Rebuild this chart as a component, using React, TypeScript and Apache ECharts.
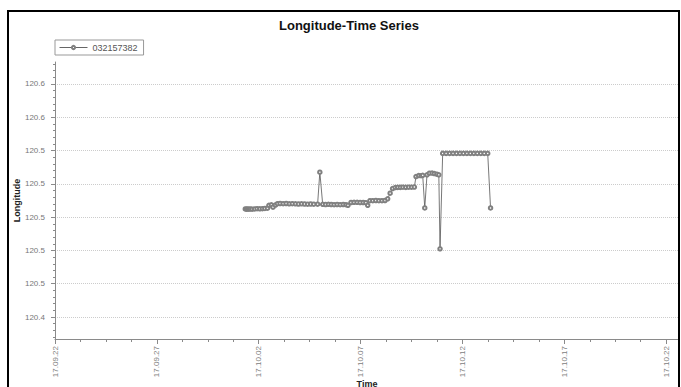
import React, { useEffect, useRef } from "react";
import * as echarts from "echarts";

const chartTitle = "Longitude-Time Series";
const seriesName = "032157382";
const xAxisName = "Time";
const yAxisName = "Longitude";

const baseDate = "2017-09-22 00:00";
const xMaxDays = 30.63;
const xTickDays = [0, 5, 10, 15, 20, 25, 30];

const yMin = 120.4268;
const yMax = 120.5932;
const yTickValues = [120.44, 120.46, 120.48, 120.5, 120.52, 120.54, 120.56, 120.58];
const yMinorSplit = 5;

const times = [
  "2017-10-01 08:10", "2017-10-01 09:36", "2017-10-01 11:02", "2017-10-01 12:29",
  "2017-10-01 14:24", "2017-10-01 16:19", "2017-10-01 19:12", "2017-10-01 22:05",
  "2017-10-02 01:12", "2017-10-02 04:19", "2017-10-02 07:12", "2017-10-02 10:19",
  "2017-10-02 12:00", "2017-10-02 14:53", "2017-10-02 16:48", "2017-10-02 19:41",
  "2017-10-02 22:05", "2017-10-03 01:12", "2017-10-03 04:48", "2017-10-03 08:24",
  "2017-10-03 12:00", "2017-10-03 15:36", "2017-10-03 19:12", "2017-10-03 22:48",
  "2017-10-04 02:24", "2017-10-04 06:00", "2017-10-04 09:36", "2017-10-04 13:12",
  "2017-10-04 16:48", "2017-10-04 21:22", "2017-10-05 00:00", "2017-10-05 03:22",
  "2017-10-05 06:43", "2017-10-05 10:05", "2017-10-05 13:26", "2017-10-05 16:48",
  "2017-10-05 20:24", "2017-10-06 00:00", "2017-10-06 03:36", "2017-10-06 06:43",
  "2017-10-06 09:07", "2017-10-06 12:43", "2017-10-06 16:19", "2017-10-06 19:55",
  "2017-10-06 23:31", "2017-10-07 03:07", "2017-10-07 06:14", "2017-10-07 08:24",
  "2017-10-07 11:02", "2017-10-07 14:24", "2017-10-07 18:00", "2017-10-07 21:36",
  "2017-10-08 01:12", "2017-10-08 04:48", "2017-10-08 07:55", "2017-10-08 10:48",
  "2017-10-08 13:41", "2017-10-08 16:48", "2017-10-08 19:41", "2017-10-08 22:48",
  "2017-10-09 01:55", "2017-10-09 05:17", "2017-10-09 08:38", "2017-10-09 12:00",
  "2017-10-09 15:22", "2017-10-09 17:17", "2017-10-09 20:24", "2017-10-09 23:17",
  "2017-10-10 01:12", "2017-10-10 03:36", "2017-10-10 06:14", "2017-10-10 09:07",
  "2017-10-10 12:14", "2017-10-10 14:53", "2017-10-10 17:46", "2017-10-10 20:10",
  "2017-10-10 21:36", "2017-10-11 00:43", "2017-10-11 04:48", "2017-10-11 08:53",
  "2017-10-11 12:58", "2017-10-11 17:02", "2017-10-11 21:07", "2017-10-12 01:12",
  "2017-10-12 05:17", "2017-10-12 09:22", "2017-10-12 13:26", "2017-10-12 17:31",
  "2017-10-12 21:36", "2017-10-13 01:41", "2017-10-13 05:46", "2017-10-13 09:07",
];

const longitudes = [
  120.5049, 120.5048, 120.5049, 120.5048,
  120.5049, 120.5048, 120.5049, 120.5051,
  120.505, 120.5051, 120.5052, 120.5054,
  120.5071, 120.5074, 120.506, 120.5073,
  120.5081, 120.5082, 120.5081, 120.5082,
  120.508, 120.5081, 120.508, 120.5079,
  120.508, 120.5079, 120.5078, 120.5079,
  120.5078, 120.5078, 120.527, 120.5077,
  120.5076, 120.5077, 120.5076, 120.5075,
  120.5076, 120.5075, 120.5076, 120.5075,
  120.5071, 120.5088, 120.5089, 120.5089,
  120.5088, 120.5088, 120.5087, 120.5071,
  120.5099, 120.5099, 120.51, 120.5099,
  120.5099, 120.51, 120.511, 120.5144,
  120.5172, 120.5178, 120.5179, 120.5179,
  120.518, 120.5179, 120.518, 120.518,
  120.5181, 120.5244, 120.525, 120.5249,
  120.5251, 120.5055, 120.5254, 120.5264,
  120.5265, 120.5262, 120.5258, 120.5254,
  120.481, 120.5383, 120.5383, 120.5383,
  120.5383, 120.5383, 120.5383, 120.5383,
  120.5383, 120.5383, 120.5383, 120.5383,
  120.5383, 120.5383, 120.5383, 120.5055,
];

const FONT = "'Liberation Sans', Arial, sans-serif";
const DAY_MS = 86400000;

function toMs(s: string): number {
  const [d, t] = s.split(" ");
  const [Y, M, D] = d.split("-").map(Number);
  const [h, m] = t.split(":").map(Number);
  return Date.UTC(Y, M - 1, D, h, m);
}

const baseMs = toMs(baseDate);
const pad = (n: number) => (n < 10 ? "0" + n : String(n));
function formatDay(days: number): string {
  const dt = new Date(baseMs + Math.round(days * DAY_MS));
  return `${String(dt.getUTCFullYear()).slice(2)}.${pad(dt.getUTCMonth() + 1)}.${pad(dt.getUTCDate())}`;
}

function minorTicks(): number[] {
  const step = (yTickValues[1] - yTickValues[0]) / yMinorSplit;
  const out: number[] = [];
  const start = yTickValues[0] - step * Math.floor((yTickValues[0] - yMin) / step);
  for (let v = start; v <= yMax + 1e-9; v += step) {
    const r = Math.round(v * 100000) / 100000;
    if (!yTickValues.some((t) => Math.abs(t - r) < 1e-6)) out.push(r);
  }
  return out;
}

export default function App() {
  const ref = useRef<HTMLDivElement>(null);
  useEffect(() => {
    if (!ref.current) return;
    const chart = echarts.init(ref.current, null, { renderer: "svg" });
    const data = times.map((t, i) => [(toMs(t) - baseMs) / DAY_MS, longitudes[i]]);
    const axisColor = "#8a8a8a";
    chart.setOption({
      animation: false,
      backgroundColor: "#ffffff",
      textStyle: { fontFamily: FONT },
      title: {
        text: chartTitle,
        left: 279,
        top: 19,
        padding: 0,
        textStyle: { fontSize: 13, fontWeight: "bold", color: "#111", fontFamily: FONT },
      },
      legend: {
        left: 55,
        top: 40,
        orient: "horizontal",
        padding: [3, 6, 3, 4],
        itemWidth: 28,
        itemHeight: 4,
        itemGap: 5,
        borderColor: "#999",
        borderWidth: 1,
        lineStyle: { width: 1, color: "#666" },
        itemStyle: { borderWidth: 0.8, color: "#808080" },
        textStyle: { fontSize: 9, color: "#555", fontFamily: FONT },
        data: [seriesName],
      },
      graphic: [
        {
          type: "rect",
          shape: { x: 8, y: 11, width: 671, height: 400 },
          style: { fill: "none", stroke: "#000", lineWidth: 2 },
          silent: true,
          z: 100,
        },
      ],
      grid: {
        left: 55,
        right: 2,
        top: 62,
        bottom: 48,
        containLabel: false,
        outerBoundsMode: "none",
      },
      xAxis: {
        type: "value",
        min: 0,
        max: xMaxDays,
        interval: 5,
        name: xAxisName,
        nameLocation: "middle",
        nameGap: 40,
        nameMoveOverlap: false,
        nameTextStyle: { fontSize: 9, fontWeight: "bold", color: "#222", fontFamily: FONT },
        axisLine: { show: true, lineStyle: { color: axisColor, width: 1 } },
        axisTick: {
          show: true,
          inside: false,
          length: 5,
          lineStyle: { color: axisColor },
          customValues: xTickDays,
        },
        minorTick: { show: true, splitNumber: 4, length: 3, lineStyle: { color: axisColor } },
        axisLabel: {
          rotate: 90,
          fontSize: 8,
          color: "#808080",
          margin: 7,
          fontFamily: FONT,
          customValues: xTickDays,
          formatter: (v: number) => formatDay(v),
        },
        splitLine: { show: false },
      },
      yAxis: [
        {
          type: "value",
          min: yMin,
          max: yMax,
          name: yAxisName,
          nameLocation: "middle",
          nameRotate: 90,
          nameGap: 34,
          nameMoveOverlap: false,
          nameTextStyle: { fontSize: 9, fontWeight: "bold", color: "#222", fontFamily: FONT },
          axisLine: { show: true, lineStyle: { color: axisColor, width: 1 } },
          axisTick: {
            show: true,
            inside: false,
            length: 4,
            lineStyle: { color: axisColor },
            customValues: yTickValues,
          },
          axisLabel: {
            fontSize: 8,
            color: "#777",
            margin: 10,
            fontFamily: FONT,
            customValues: yTickValues,
            formatter: (v: number) => v.toFixed(1),
          },
          splitLine: {
            show: true,
            lineStyle: { color: "#cccccc", type: [1, 1], width: 1 },
          },
        },
        {
          type: "value",
          min: yMin,
          max: yMax,
          position: "left",
          offset: 0,
          axisLine: { show: false },
          axisLabel: { show: false },
          splitLine: { show: false },
          axisTick: {
            show: true,
            inside: false,
            length: 2,
            lineStyle: { color: axisColor },
            customValues: minorTicks(),
          },
        },
      ],
      series: [
        {
          name: seriesName,
          type: "line",
          data,
          yAxisIndex: 0,
          symbol: "emptyCircle",
          symbolSize: 3.5,
          showAllSymbol: true,
          lineStyle: { color: "#555", width: 0.8 },
          itemStyle: { color: "#808080", borderWidth: 0.8 },
        },
      ],
    });
    return () => chart.dispose();
  }, []);
  return (
    <div
      ref={ref}
      style={{ position: "fixed", left: 0, top: 0, width: 681, height: 387, background: "#fff" }}
    />
  );
}
